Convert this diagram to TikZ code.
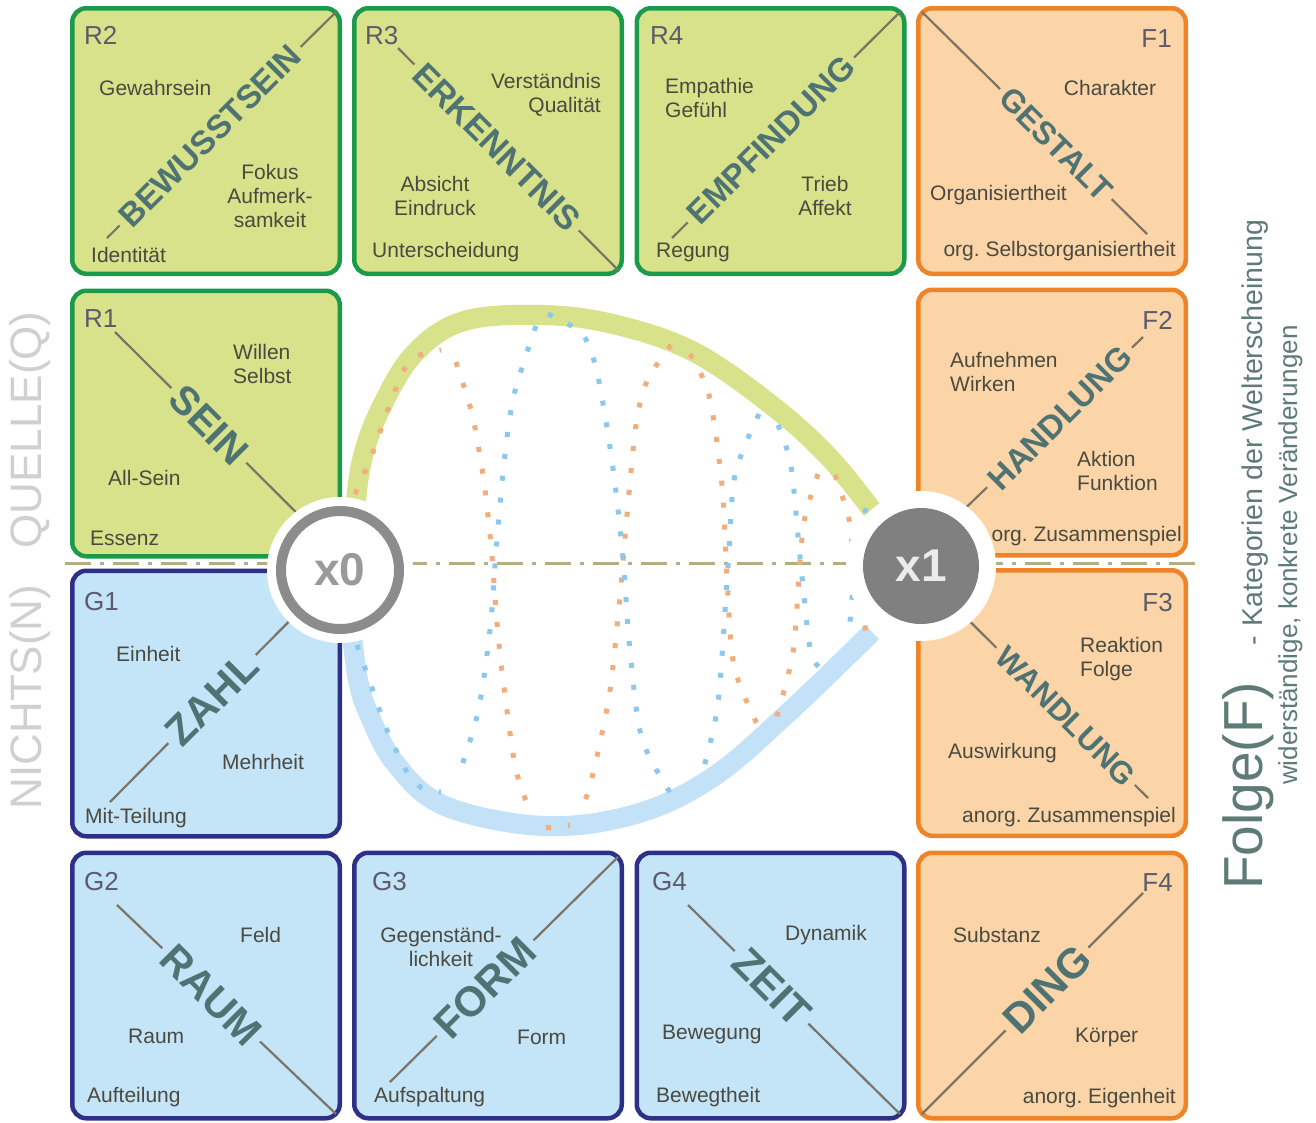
\documentclass[tikz,border=0pt]{standalone}
\usepackage{fontspec}
\setmainfont{Liberation Sans}
\frenchspacing
\newcommand\fsz[1]{\fontsize{#1}{#1}\selectfont}
\newcommand\bfsz[1]{\fontsize{#1}{#1}\selectfont\bfseries}
\definecolor{gfill}{HTML}{D8E28A}
\definecolor{gborder}{HTML}{1B9A4B}
\definecolor{bfill}{HTML}{C4E4F8}
\definecolor{bborder}{HTML}{2E3088}
\definecolor{ofill}{HTML}{FBD5A8}
\definecolor{oborder}{HTML}{EE8427}
\definecolor{wordc}{HTML}{4F7373}
\definecolor{txtc}{HTML}{4A4A40}
\definecolor{codec}{HTML}{5B5B6B}
\definecolor{diagc}{HTML}{7D7466}
\definecolor{gband}{HTML}{D8E28A}
\definecolor{bband}{HTML}{C3E2F7}
\definecolor{odotc}{HTML}{F2AD7C}
\definecolor{bdotc}{HTML}{8CC8EE}
\definecolor{dashc}{HTML}{B3AE86}
\definecolor{ringc}{HTML}{8C8C8C}
\definecolor{x0c}{HTML}{9A9A9A}
\definecolor{diskc}{HTML}{808080}
\definecolor{sidec}{HTML}{D0D0D0}
\definecolor{folgec}{HTML}{5E7B78}
\begin{document}
\begin{tikzpicture}[x=1pt,y=-1pt,
  box/.style={rounded corners=14pt, line width=4.5pt, minimum width=267.5pt, minimum height=265.5pt, inner sep=0pt},
  gbox/.style={box, draw=gborder, fill=gfill},
  bbox/.style={box, draw=bborder, fill=bfill},
  obox/.style={box, draw=oborder, fill=ofill},
  diag/.style={draw=diagc, line width=2.2pt},
  word/.style={text=wordc, inner xsep=6pt, inner ysep=2pt},
  gword/.style={word, fill=gfill},
  bword/.style={word, fill=bfill},
  oword/.style={word, fill=ofill},
  lbl/.style={text=txtc, font=\fontsize{21}{24}\selectfont, inner sep=0pt},
  code/.style={text=codec, font=\fsz{26}, inner sep=0pt},
  odot/.style={draw=odotc, line width=5pt, dash pattern=on 5pt off 17pt},
  bdot/.style={draw=bdotc, line width=5pt, dash pattern=on 5pt off 17pt},
  dashdot/.style={draw=dashc, line width=3pt, dash pattern=on 26pt off 9pt on 4pt off 9pt},
]
\useasboundingbox (0,0) rectangle (1316,1122);
\fill[white] (0,0) rectangle (1316,1122);

% dash-dot axis
\coordinate (axL) at (65,563);
\coordinate (axR) at (1197,563);
\draw[dashdot] (axL) -- (axR);

% boxes
\node[gbox] (R2) at (206,141) {};
\node[gbox] (R3) at (488,141) {};
\node[gbox] (R4) at (770.5,141) {};
\node[obox] (F1) at (1052,141) {};
\node[gbox] (R1) at (206,423.5) {};
\node[obox] (F2) at (1052,422.5) {};
\node[bbox] (G1) at (206,703.5) {};
\node[obox] (F3) at (1052,703) {};
\node[bbox] (G2) at (206,985.5) {};
\node[bbox] (G3) at (488,985.5) {};
\node[bbox] (G4) at (770.5,985.5) {};
\node[obox] (F4) at (1052,985.5) {};

% diagonals and words
\coordinate (dR2a) at (107,238); \coordinate (dR2b) at (336,12);
\draw[diag] (dR2a) -- (dR2b);
\node[gword, font=\bfsz{33}, rotate=45] (wR2) at (210,136) {BEWUSSTSEIN};

\coordinate (dR3a) at (398,48); \coordinate (dR3b) at (618,270);
\draw[diag] (dR3a) -- (dR3b);
\node[gword, font=\bfsz{34}, rotate=-45] (wR3) at (497,147) {ERKENNTNIS};

\coordinate (dR4a) at (672,238); \coordinate (dR4b) at (900,12);
\draw[diag] (dR4a) -- (dR4b);
\node[gword, font=\bfsz{33}, rotate=45] (wR4) at (771,140) {EMPFINDUNG};

\coordinate (dF1a) at (922,12); \coordinate (dF1b) at (1147,234);
\draw[diag] (dF1a) -- (dF1b);
\node[oword, font=\bfsz{32}, rotate=-45] (wF1) at (1056,144) {GESTALT};

\coordinate (dR1a) at (115,332); \coordinate (dR1b) at (336,552);
\draw[diag] (dR1a) -- (dR1b);
\node[gword, font=\bfsz{40}, rotate=-45] (wR1) at (209,425) {SEIN};

\coordinate (dF2a) at (922,550); \coordinate (dF2b) at (1143,337);
\draw[diag] (dF2a) -- (dF2b);
\node[oword, font=\bfsz{33}, rotate=45] (wF2) at (1060,418) {HANDLUNG};

\coordinate (dF3a) at (922,574); \coordinate (dF3b) at (1148,798);
\draw[diag] (dF3a) -- (dF3b);
\node[oword, font=\bfsz{31}, rotate=-45] (wF3) at (1066,716) {WANDLUNG};

\coordinate (dG1a) at (110,802); \coordinate (dG1b) at (336,574);
\draw[diag] (dG1a) -- (dG1b);
\node[bword, font=\bfsz{42}, rotate=45] (wG1) at (212,699) {ZAHL};

\coordinate (dG2a) at (117,905); \coordinate (dG2b) at (336,1114);
\draw[diag] (dG2a) -- (dG2b);
\node[bword, font=\bfsz{41}, rotate=-45] (wG2) at (211,995) {RAUM};

\coordinate (dG3a) at (390,1082); \coordinate (dG3b) at (618,857);
\draw[diag] (dG3a) -- (dG3b);
\node[bword, font=\bfsz{42}, rotate=45] (wG3) at (485,988) {FORM};

\coordinate (dG4a) at (688,905); \coordinate (dG4b) at (900,1114);
\draw[diag] (dG4a) -- (dG4b);
\node[bword, font=\bfsz{42}, rotate=-45] (wG4) at (772,987) {ZEIT};

\coordinate (dF4a) at (922,1114); \coordinate (dF4b) at (1143,893);
\draw[diag] (dF4a) -- (dF4b);
\node[oword, font=\bfsz{42}, rotate=45] (wF4) at (1047,989) {DING};

% small texts
\node[code, anchor=base west] (cR2) at (84,44) {R2};
\node[lbl, anchor=west] (tR2a) at (99,88) {Gewahrsein};
\node[lbl, align=center] (tR2b) at (270,196) {Fokus\\Aufmerk-\\samkeit};
\node[lbl, anchor=west] (tR2c) at (91,255) {Identität};

\node[code, anchor=base west] (cR3) at (365,44) {R3};
\node[lbl, align=right, anchor=east] (tR3a) at (601,95) {Verständnis\\Qualität};
\node[lbl, align=center] (tR3b) at (435,196) {Absicht\\Eindruck};
\node[lbl, anchor=west] (tR3c) at (372,252) {Unterscheidung};

\node[code, anchor=base west] (cR4) at (650,44) {R4};
\node[lbl, align=left, anchor=west] (tR4a) at (665,98) {Empathie\\Gefühl};
\node[lbl, align=center] (tR4b) at (825,196) {Trieb\\Affekt};
\node[lbl, anchor=west] (tR4c) at (656,252) {Regung};

\node[code, anchor=base east] (cF1) at (1172,47) {F1};
\node[lbl] (tF1a) at (1110,88) {Charakter};
\node[lbl, anchor=west] (tF1b) at (930,195) {Organisiertheit};
\node[lbl, anchor=east] (tF1c) at (1176,251) {org. Selbstorganisiertheit};

\node[code, anchor=base west] (cR1) at (84,327) {R1};
\node[lbl, align=left, anchor=west] (tR1a) at (233,364) {Willen\\Selbst};
\node[lbl, anchor=west] (tR1b) at (108,478) {All-Sein};
\node[lbl, anchor=west] (tR1c) at (90,538) {Essenz};

\node[code, anchor=base east] (cF2) at (1173,329) {F2};
\node[lbl, align=left, anchor=west] (tF2a) at (950,372) {Aufnehmen\\Wirken};
\node[lbl, align=left, anchor=west] (tF2b) at (1077,471) {Aktion\\Funktion};
\node[lbl, anchor=east] (tF2c) at (1182,536) {org. Zusammenspiel};

\node[code, anchor=base west] (cG1) at (84,610) {G1};
\node[lbl, anchor=west] (tG1a) at (116,654) {Einheit};
\node[lbl, anchor=west] (tG1b) at (222,762) {Mehrheit};
\node[lbl, anchor=west] (tG1c) at (85,818) {Mit-Teilung};

\node[code, anchor=base east] (cF3) at (1173,611) {F3};
\node[lbl, align=left, anchor=west] (tF3a) at (1080,659) {Reaktion\\Folge};
\node[lbl, anchor=west] (tF3b) at (948,753) {Auswirkung};
\node[lbl, anchor=east] (tF3c) at (1176,817) {anorg. Zusammenspiel};

\node[code, anchor=base west] (cG2) at (84,890) {G2};
\node[lbl, anchor=west] (tG2a) at (240,935) {Feld};
\node[lbl, anchor=west] (tG2b) at (128,1036) {Raum};
\node[lbl, anchor=west] (tG2c) at (87,1097) {Aufteilung};

\node[code, anchor=base west] (cG3) at (372,890) {G3};
\node[lbl, align=center] (tG3a) at (441,947) {Gegenständ-\\lichkeit};
\node[lbl, anchor=west] (tG3b) at (517,1037) {Form};
\node[lbl, anchor=west] (tG3c) at (374,1097) {Aufspaltung};

\node[code, anchor=base west] (cG4) at (652,890) {G4};
\node[lbl, anchor=west] (tG4a) at (785,935) {Dynamik};
\node[lbl, anchor=west] (tG4b) at (662,1034) {Bewegung};
\node[lbl, anchor=west] (tG4c) at (656,1097) {Bewegtheit};

\node[code, anchor=base east] (cF4) at (1173,891) {F4};
\node[lbl, anchor=west] (tF4a) at (953,935) {Substanz};
\node[lbl, anchor=west] (tF4b) at (1075,1037) {Körper};
\node[lbl, anchor=east] (tF4c) at (1176,1098) {anorg. Eigenheit};

% bands
\draw[line width=20pt, draw=gband] plot[smooth, tension=0.6] coordinates {(355,510) (362,460) (380,410) (414,354) (464,321) (544,315) (617,325) (694,352) (770,404) (827,455) (872,510)};
\draw[line width=20pt, draw=bband] plot[smooth, tension=0.6] coordinates {(352,635) (358,680) (368,712) (395,763) (445,806) (544,826) (636,814) (713,777) (789,712) (872,632)};

% dotted meridians
\draw[odot] plot[smooth] coordinates {(355,494) (372,455) (387,412) (405,368) (420,355) (441,350)};
\draw[bdot] plot[smooth] coordinates {(357,645) (372,688) (387,730) (407,772) (422,788) (441,792)};
\draw[odot] plot[smooth] coordinates {(546,828) (570,825)};
\draw[odot] plot[smooth] coordinates {(456,362) (472,414) (483,475) (491,545) (498,634) (506,703) (516,770) (531,814)};
\draw[bdot] plot[smooth] coordinates {(536,326) (514,395) (504,463) (496,552) (490,630) (478,712) (458,777)};
\draw[odot] plot[smooth] coordinates {(671,345) (647,381) (636,425) (627,515) (619,606) (609,697) (590,786) (581,806)};
\draw[bdot] plot[smooth] coordinates {(548,314) (583,335) (598,377) (613,468) (623,559) (630,650) (642,739) (673,797)};
\draw[odot] plot[smooth] coordinates {(690,354) (709,395) (722,485) (727,577) (734,666) (759,728)};
\draw[bdot] plot[smooth] coordinates {(759,414) (735,475) (728,566) (718,703) (703,770)};
\draw[odot] plot[smooth] coordinates {(818,474) (805,517) (800,561) (793,652) (776,719)};
\draw[bdot] plot[smooth] coordinates {(778,425) (791,466) (800,557) (810,648) (820,668)};
\draw[odot] plot[smooth] coordinates {(835,475) (849,519) (854,563) (866,632)};
\draw[bdot] plot[smooth] coordinates {(866,508) (856,555) (850,623)};

% circles
\node[circle, fill=white, minimum size=146pt, inner sep=0pt] (h0) at (340,570) {};
\node[circle, draw=ringc, line width=10pt, fill=white, minimum size=118pt, inner sep=0pt, text=x0c, font=\bfsz{46}] (x0) at (340,570) {x0};
\node[circle, fill=white, minimum size=150pt, inner sep=0pt] (h1) at (921,566) {};
\node[circle, fill=diskc, minimum size=116pt, inner sep=0pt, text=white!92!black, font=\bfsz{46}] (x1) at (921,566) {x1};

% side texts
\node[rotate=90, text=sidec, font=\fsz{44}, inner sep=0pt] (quelle) at (30,430) {QUELLE(Q)};
\node[rotate=90, text=sidec, font=\fsz{44}, inner sep=0pt] (nichts) at (30,697) {NICHTS(N)};
\node[rotate=90, anchor=base west, text=folgec, font=\fsz{55}, inner sep=0pt] (folge) at (1262,890) {Folge(F)};
\node[rotate=90, anchor=base west, text=folgec, font=\fsz{28.5}, inner sep=0pt] (kat) at (1262,646) {-\hspace{10pt}Kategorien der Welterscheinung};
\node[rotate=90, anchor=base west, text=folgec, font=\fsz{26}, inner sep=0pt] (wid) at (1297,785) {widerständige, konkrete Veränderungen};
\end{tikzpicture}
\end{document}
